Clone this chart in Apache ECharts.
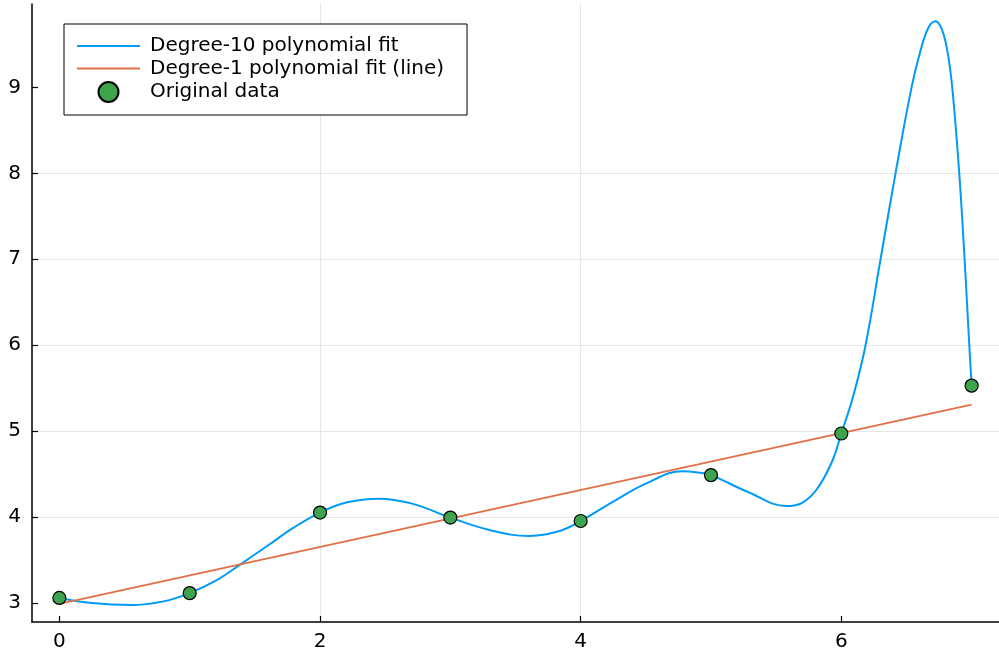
<!DOCTYPE html>
<html>
<head>
<meta charset="utf-8">
<script src="https://cdn.jsdelivr.net/npm/echarts@6/dist/echarts.min.js"></script>
<style>
html,body{margin:0;padding:0;background:#fff;}
#chart{width:999px;height:661px;}
</style>
</head>
<body>
<div id="chart"></div>
<script>
// Degree-10 polynomial fit curve
const fitX = [0, 0.25, 0.55, 0.8, 1.0, 1.2, 1.389, 1.6, 1.8, 2.0, 2.2, 2.45, 2.7, 3.0, 3.3, 3.6, 3.85, 4.0, 4.25, 4.5, 4.78, 4.9, 5.0, 5.28, 5.58, 5.7, 5.815, 5.93, 6.0, 6.09, 6.186, 6.301, 6.416, 6.539, 6.608, 6.67, 6.723, 6.77, 6.813, 6.851, 6.905, 6.946, 6.982, 7.0];
const fitY = [3.06, 3.0, 2.977, 3.02, 3.116, 3.26, 3.45, 3.67, 3.88, 4.053, 4.17, 4.215, 4.16, 3.995, 3.85, 3.781, 3.845, 3.955, 4.18, 4.39, 4.535, 4.52, 4.489, 4.295, 4.129, 4.167, 4.33, 4.65, 4.973, 5.40, 6.0, 7.0, 8.0, 9.0, 9.43, 9.70, 9.77, 9.68, 9.43, 9.0, 8.0, 7.0, 6.0, 5.53];
// Degree-1 fit (line) endpoints
const lineX = [0, 7];
const lineY = [2.99, 5.31];
// Original data
const dataX = [0, 1, 2, 3, 4, 5, 6, 7];
const dataY = [3.06, 3.116, 4.053, 3.995, 3.955, 4.489, 4.973, 5.53];
// Tick labels
const xTicks = [0, 2, 4, 6];
const yTicks = [3, 4, 5, 6, 7, 8, 9];

const zip = (a, b) => a.map((v, i) => [v, b[i]]);
const FONT = 'DejaVu Sans';

const chart = echarts.init(document.getElementById('chart'), null, {renderer: 'canvas'});
chart.setOption({
  animation: false,
  backgroundColor: '#ffffff',
  grid: {left: 32, right: 0, top: 4, bottom: 39, containLabel: false},
  xAxis: {
    type: 'value', min: -0.21, max: 7.21, splitNumber: 4, minInterval: 2, maxInterval: 2,
    axisLine: {show: true, onZero: false, lineStyle: {color: '#000', width: 1.5}},
    axisTick: {show: true, inside: true, length: 6, customValues: xTicks, lineStyle: {color: '#000', width: 1.2}},
    axisLabel: {customValues: xTicks, color: '#000', fontFamily: FONT, fontSize: 20, margin: 10},
    splitLine: {show: true, showMinLine: false, showMaxLine: false, lineStyle: {color: '#e6e6e6', width: 1}}
  },
  yAxis: {
    type: 'value', min: 2.78, max: 9.97, minInterval: 1, maxInterval: 1,
    axisLine: {show: true, onZero: false, lineStyle: {color: '#000', width: 1.5}},
    axisTick: {show: true, inside: true, length: 6, customValues: yTicks, lineStyle: {color: '#000', width: 1.2}},
    axisLabel: {customValues: yTicks, color: '#000', fontFamily: FONT, fontSize: 20, margin: 11},
    splitLine: {show: true, showMinLine: false, showMaxLine: false, lineStyle: {color: '#e6e6e6', width: 1}}
  },
  legend: {
    orient: 'vertical', left: 64, top: 24,
    padding: [12, 23, 12, 12],
    itemWidth: 63, itemHeight: 20, itemGap: 2.5,
    borderColor: '#000', borderWidth: 1, backgroundColor: '#fff', borderRadius: 0,
    textStyle: {color: '#000', fontFamily: FONT, fontSize: 20, lineHeight: 20, padding: [0, 0, 0, 5]},
    data: [
      {name: 'Degree-10 polynomial fit', itemStyle: {opacity: 0}},
      {name: 'Degree-1 polynomial fit (line)', itemStyle: {opacity: 0}},
      {name: 'Original data', icon: 'circle'}
    ]
  },
  series: [
    {
      name: 'Degree-10 polynomial fit', type: 'line', data: zip(fitX, fitY),
      smooth: 0.4, symbol: 'none', lineStyle: {color: '#009af9', width: 2}, itemStyle: {color: '#009af9'}, z: 2
    },
    {
      name: 'Degree-1 polynomial fit (line)', type: 'line', data: zip(lineX, lineY),
      symbol: 'none', lineStyle: {color: '#e26f46', width: 1.8}, itemStyle: {color: '#e26f46'}, z: 3
    },
    {
      name: 'Original data', type: 'scatter', data: zip(dataX, dataY),
      symbol: 'circle', symbolSize: 13,
      itemStyle: {color: '#3da44d', borderColor: '#000', borderWidth: 1.2, opacity: 1}, z: 4
    }
  ]
});
</script>
</body>
</html>
